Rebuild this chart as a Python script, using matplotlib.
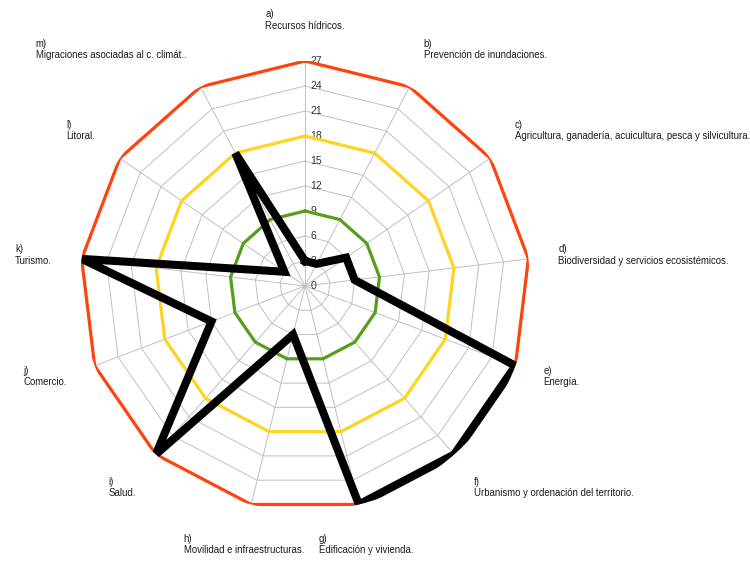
import matplotlib
matplotlib.use("Agg")
import matplotlib.pyplot as plt
import numpy as np

plt.rcParams["font.family"] = ["Liberation Sans", "DejaVu Sans"]

# categories, in clockwise order from the top
letters = ["a)", "b)", "c)", "d)", "e)", "f)", "g)", "h)", "i)", "j)", "k)", "l)", "m)"]
names = [
    "Recursos hídricos.",
    "Prevención de inundaciones.",
    "Agricultura, ganadería, acuicultura, pesca y silvicultura.",
    "Biodiversidad y servicios ecosistémicos.",
    "Energía.",
    "Urbanismo y ordenación del territorio.",
    "Edificación y vivienda.",
    "Movilidad e infraestructuras.",
    "Salud.",
    "Comercio.",
    "Turismo.",
    "Litoral.",
    "Migraciones asociadas al c. climát..",
]
scores = [3, 3, 6, 6, 27, 27, 27, 6, 27, 12, 27, 3, 18]
levels = [9, 18, 27]
level_colors = ["#579d1c", "#ffd320", "#ff420e"]
ticks = list(range(0, 28, 3))

n = len(names)
theta = np.arange(n) * 2 * np.pi / n
theta_c = np.append(theta, theta[0])

fig = plt.figure(figsize=(7.5, 5.7), dpi=100)
ax = fig.add_axes([0.1067, 0.1035, 0.6, 0.7895], projection="polar")
ax.set_theta_zero_location("N")
ax.set_theta_direction(-1)
ax.set_ylim(0, 27)
ax.grid(False)
ax.spines["polar"].set_visible(False)
ax.set_xticks([])
ax.set_yticks([])
ax.patch.set_alpha(0)

# polygon grid and spokes
for t in ticks[1:]:
    ax.plot(theta_c, [t] * (n + 1), color="#c0c0c0", lw=0.7, zorder=1)
for th in theta:
    ax.plot([th, th], [0, 27], color="#c0c0c0", lw=0.7, zorder=1)

for t in ticks:
    ax.annotate(str(t), (0, t), xytext=(4, 0), textcoords="offset points",
                fontsize=7.5, color="#333333", ha="left", va="center", zorder=2)

# threshold rings
for lv, col in zip(levels, level_colors):
    ax.plot(theta_c, [lv] * (n + 1), color=col, lw=2.3, zorder=3, solid_joinstyle="miter")

ax.plot(theta_c, np.append(scores, scores[0]), color="black", lw=5.8, zorder=4,
        solid_joinstyle="miter")

# category labels
for th, let, name in zip(theta, letters, names):
    s, c = np.sin(th), np.cos(th)
    ha = "center" if abs(s) < 0.3 else ("left" if s > 0 else "right")
    va = "center" if abs(c) < 0.4 else ("bottom" if c > 0 else "top")
    ax.text(th, 30.6, f"{let}\n{name}", fontsize=6.9, color="#1a1a1a", ha=ha, va=va,
            multialignment="left", linespacing=1.2)

fig.savefig("out.png", dpi=100, facecolor="white")
